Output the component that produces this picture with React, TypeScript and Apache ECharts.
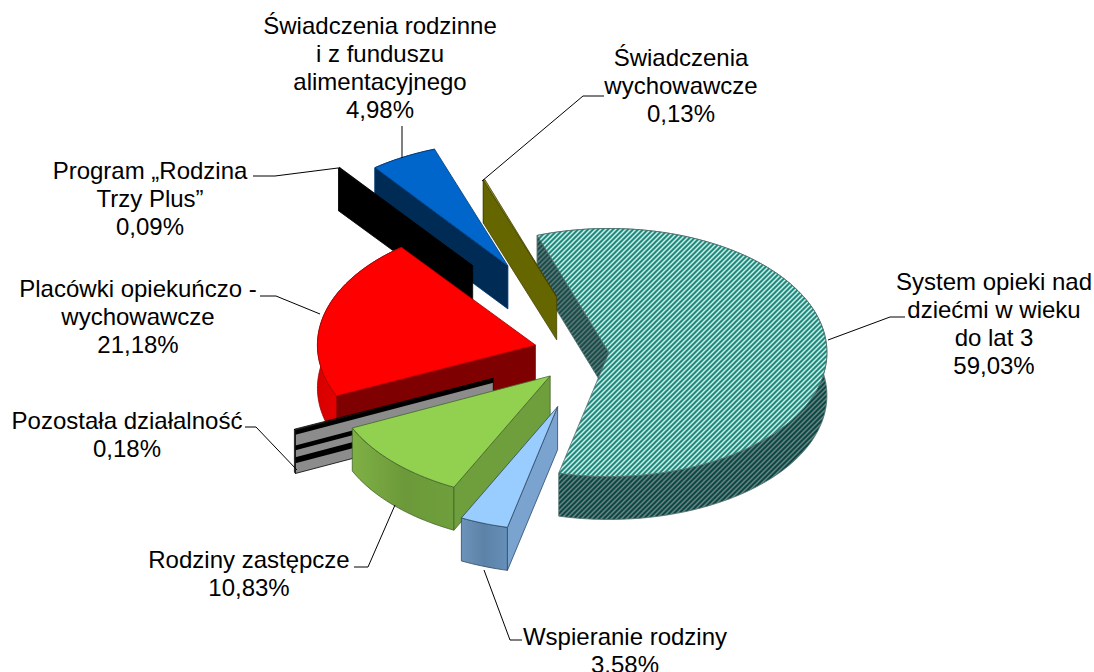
import React, { useEffect, useRef } from "react";
import * as echarts from "echarts";

const CATEGORIES = [
  "System opieki nad\ndziećmi w wieku\ndo lat 3",
  "Wspieranie rodziny",
  "Rodziny zastępcze",
  "Pozostała działalność",
  "Placówki opiekuńczo -\nwychowawcze",
  "Program „Rodzina\nTrzy Plus”",
  "Świadczenia rodzinne\ni z funduszu\nalimentacyjnego",
  "Świadczenia\nwychowawcze",
];
const VALUES = [59.03, 3.58, 10.83, 0.18, 21.18, 0.09, 4.98, 0.13];
const VALUE_LABELS = ["59,03%", "3,58%", "10,83%", "0,18%", "21,18%", "0,09%", "4,98%", "0,13%"];
// Excel-style per-point explosion, as a share of the radius
const EXPLOSION = [0.08, 0.46, 0.265, 0.495, 0.265, 0.89, 0.8, 0.48];
// painter's order of the slices
const DRAW_ORDER = [0, 6, 7, 5, 4, 3, 2, 1];

const CX = 591.5;
const CY = 353;
const RX = 218;
const RY = 124;
const DEPTH = 43;
const FIRST_ANGLE = 340.8;

const LABEL_POS: [number, number][] = [
  [994, 267],
  [625, 622],
  [249, 545],
  [127, 406],
  [138, 274],
  [150, 156],
  [380, 11],
  [681, 43],
];
const LEADERS: number[][][] = [
  [[828, 340], [890, 317], [905, 317]],
  [[484, 570], [510, 640], [522, 640]],
  [[395, 505], [368, 567], [354, 567]],
  [[297, 470], [256, 427], [245, 427]],
  [[320, 314], [276, 296], [260, 296]],
  [[338, 168], [275, 176], [253, 176]],
  [[402, 158], [402, 126]],
  [[482, 181], [583, 96], [604, 96]],
];

function hatch(bg: string, fg: string, width: number) {
  const c = document.createElement("canvas");
  c.width = 5;
  c.height = 5;
  const g = c.getContext("2d")!;
  g.fillStyle = bg;
  g.fillRect(0, 0, 5, 5);
  g.strokeStyle = fg;
  g.lineWidth = width;
  g.beginPath();
  g.moveTo(-1, 1);
  g.lineTo(1, -1);
  g.moveTo(-1, 6);
  g.lineTo(6, -1);
  g.moveTo(4, 6);
  g.lineTo(6, 4);
  g.stroke();
  return { image: c, repeat: "repeat" } as any;
}

const grad = (a: string, b: string, c: string) =>
  new echarts.graphic.LinearGradient(0, 0, 1, 0, [
    { offset: 0, color: a },
    { offset: 0.5, color: b },
    { offset: 1, color: c },
  ]);

function App() {
  const ref = useRef<HTMLDivElement>(null);
  useEffect(() => {
    const chart = echarts.init(ref.current!, undefined, { renderer: "svg" });

    const STYLES: any[] = [
      { top: hatch("#1f8a7e", "#cfeee9", 1.5), outer: hatch("#0a4a44", "#6f8384", 1.5), side: hatch("#1a4c4a", "#5d7a79", 1.5), line: "#4f6f6c" },
      { top: "#99ccff", outer: grad("#6d93ba", "#5c82a8", "#6690b8"), side: "#7aa3d0", line: "#2f4a66" },
      { top: "#92d050", outer: grad("#7fb045", "#6c9a3a", "#6f9e3c"), side: "#6f9e3c", line: "#44662a" },
      { top: "#333333", outer: "#8c8c8c", side: "#8c8c8c", line: "#000000", bands: true },
      { top: "#ff0000", outer: grad("#d80000", "#ee0000", "#ff0000"), side: "#7f0000", line: "#a00000" },
      { top: "#000000", outer: "#000000", side: "#000000", line: "#000000" },
      { top: "#0066cc", outer: "#002b55", side: "#002b55", line: "#003a75" },
      { top: "#999933", outer: "#666600", side: "#666600", line: "#444400" },
    ];

    const total = VALUES.reduce((s, v) => s + v, 0);
    const starts: number[] = [];
    let acc = FIRST_ANGLE;
    VALUES.forEach((v) => {
      starts.push(acc);
      acc += (v / total) * 360;
    });

    const renderItem = (params: any, api: any) => {
      const i = params.dataIndex;
      const span = (api.value(1) / total) * 360;
      const a0 = starts[i];
      const a1 = a0 + span;
      const mid = ((a0 + a1) / 2) * (Math.PI / 180);
      const ax = CX + EXPLOSION[i] * RX * Math.sin(mid);
      const ay = CY - EXPLOSION[i] * RY * Math.cos(mid);
      const at = (deg: number, r: number, dz: number) => {
        const t = (deg * Math.PI) / 180;
        return [ax + r * RX * Math.sin(t), ay - r * RY * Math.cos(t) + dz];
      };
      const n = Math.max(2, Math.ceil(span / 1.5));
      const arc = (dz: number) => {
        const pts: number[][] = [];
        for (let k = 0; k <= n; k++) pts.push(at(a0 + (span * k) / n, 1, dz));
        return pts;
      };
      const s = STYLES[i];
      const order = DRAW_ORDER.indexOf(i) * 10;
      const lw = 0.8;
      const children: any[] = [
        {
          type: "polygon",
          z2: order,
          shape: { points: [...arc(0), ...arc(DEPTH).reverse()] },
          style: { fill: s.outer, stroke: s.line, lineWidth: lw },
        },
        {
          type: "polygon",
          z2: order + 1,
          shape: { points: [at(a0, 1, 0), at(a0, 0, 0), at(a0, 0, DEPTH), at(a0, 1, DEPTH)] },
          style: { fill: s.side, stroke: s.line, lineWidth: lw },
        },
      ];
      if (s.bands) {
        [[0, 0.1], [0.35, 0.46], [0.62, 0.76]].forEach(([d0, d1]) => {
          children.push({
            type: "polygon",
            z2: order + 2,
            shape: {
              points: [at(a0, 1, d0 * DEPTH), at(a0, 0, d0 * DEPTH), at(a0, 0, d1 * DEPTH), at(a0, 1, d1 * DEPTH)],
            },
            style: { fill: "#000000" },
          });
        });
      }
      children.push({
        type: "polygon",
        z2: order + 4,
        shape: { points: [at(a0, 0, 0), ...arc(0)] },
        style: { fill: s.top, stroke: s.line, lineWidth: lw },
      });
      return { type: "group", children };
    };

    const texts = CATEGORIES.map((c, i) => ({
      type: "text",
      z: 100,
      x: LABEL_POS[i][0],
      y: LABEL_POS[i][1],
      style: {
        text: c + "\n" + VALUE_LABELS[i],
        fill: "#000000",
        fontFamily: "Liberation Sans",
        fontSize: 24,
        lineHeight: 28,
        align: "center",
        verticalAlign: "top",
      },
    }));
    const lines = LEADERS.map((p) => ({
      type: "polyline",
      z: 100,
      shape: { points: p },
      style: { stroke: "#000000", lineWidth: 1, fill: "none" },
    }));

    chart.setOption({
      animation: false,
      backgroundColor: "#ffffff",
      graphic: { elements: [...lines, ...texts] },
      series: [
        {
          type: "custom",
          coordinateSystem: "none",
          silent: true,
          renderItem,
          data: VALUES.map((v, i) => [i, v]),
        },
      ],
    });
    return () => chart.dispose();
  }, []);
  return <div ref={ref} style={{ position: "fixed", left: 0, top: 0, width: 1094, height: 672 }} />;
}

export default App;
